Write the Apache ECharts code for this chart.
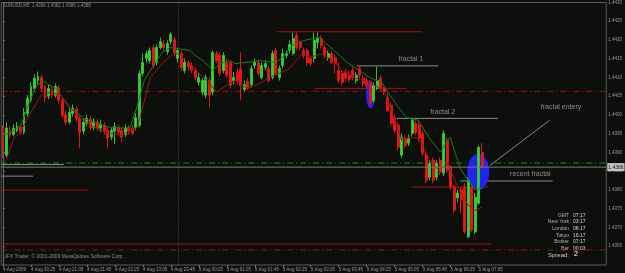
<!DOCTYPE html>
<html><head><meta charset="utf-8">
<script src="https://cdn.jsdelivr.net/npm/echarts@6/dist/echarts.min.js"></script>
<style>html,body{margin:0;padding:0;background:#0d0f0d;}#c{width:625px;height:273px;}</style>
</head><body><div id="c"></div>
<script>
// ---- data ----
const xTicks = ['4 Aug 2009','4 Aug 20:25','4 Aug 21:05','4 Aug 21:45','4 Aug 22:25','4 Aug 23:05','4 Aug 23:45','5 Aug 00:25','5 Aug 01:05','5 Aug 01:45','5 Aug 02:25','5 Aug 03:05','5 Aug 03:45','5 Aug 04:25','5 Aug 05:05','5 Aug 05:45','5 Aug 06:25','5 Aug 07:05'];
const yTicks = {min: 1.4360, max: 1.4430, step: 0.0005};
// [open, close, low, high]
const candles = [
[1.43965,1.43906,1.43885,1.43973],[1.43893,1.43965,1.43887,1.43981],[1.43959,1.43946,1.43938,1.43970],[1.43948,1.43965,1.43943,1.43975],
[1.43959,1.43970,1.43954,1.43981],[1.43967,1.43954,1.43948,1.43975],[1.43954,1.44007,1.43948,1.44018],[1.44004,1.44045,1.43996,1.44053],
[1.44039,1.44076,1.44034,1.44087],[1.44071,1.44098,1.44061,1.44108],[1.44092,1.44103,1.44081,1.44116],[1.44100,1.44071,1.44061,1.44108],
[1.44076,1.44045,1.44034,1.44081],[1.44050,1.44071,1.44042,1.44081],[1.44068,1.44053,1.44045,1.44076],[1.44053,1.44076,1.44047,1.44084],
[1.44073,1.44039,1.44031,1.44079],[1.44039,1.43999,1.43991,1.44045],[1.44001,1.43981,1.43973,1.44012],[1.43981,1.44007,1.43975,1.44018],
[1.44004,1.44018,1.43996,1.44028],[1.44015,1.43991,1.43983,1.44023],[1.43991,1.43954,1.43911,1.43999],[1.43957,1.43981,1.43948,1.43991],
[1.43978,1.43991,1.43970,1.44001],[1.43989,1.43967,1.43959,1.43996],[1.43967,1.43983,1.43959,1.43991],[1.43981,1.43965,1.43957,1.43989],
[1.43965,1.43975,1.43954,1.43986],[1.43973,1.43957,1.43948,1.43981],[1.43959,1.43938,1.43911,1.43970],[1.43941,1.43959,1.43933,1.43967],
[1.43957,1.43970,1.43922,1.43981],[1.43967,1.43954,1.43946,1.43975],[1.43959,1.43941,1.43928,1.43967],[1.43948,1.43965,1.43941,1.43975],
[1.43965,1.43957,1.43948,1.43973],[1.43965,1.43951,1.43946,1.43973],[1.43967,1.43993,1.43959,1.44004],[1.43973,1.44111,1.43967,1.44119],
[1.44111,1.44140,1.44103,1.44164],[1.44151,1.44164,1.44140,1.44172],[1.44145,1.44172,1.44137,1.44180],[1.44180,1.44132,1.44124,1.44188],
[1.44140,1.44180,1.44132,1.44188],[1.44180,1.44196,1.44175,1.44207],[1.44191,1.44180,1.44172,1.44199],[1.44169,1.44191,1.44161,1.44199],
[1.44196,1.44215,1.44188,1.44220],[1.44201,1.44164,1.44156,1.44209],[1.44151,1.44172,1.44140,1.44180],[1.44164,1.44127,1.44119,1.44172],
[1.44119,1.44140,1.44111,1.44151],[1.44140,1.44129,1.44119,1.44145],[1.44132,1.44119,1.44111,1.44140],[1.44119,1.44100,1.44092,1.44127],
[1.44087,1.44100,1.44079,1.44111],[1.44061,1.44092,1.44053,1.44098],[1.44053,1.44100,1.44045,1.44108],[1.44092,1.44053,1.44020,1.44100],
[1.44061,1.44167,1.44053,1.44172],[1.44164,1.44145,1.44137,1.44172],[1.44159,1.44111,1.44103,1.44167],[1.44119,1.44159,1.44111,1.44167],
[1.44140,1.44106,1.44098,1.44151],[1.44140,1.44079,1.44071,1.44145],[1.44092,1.44100,1.44081,1.44114],[1.44114,1.44092,1.44084,1.44124],
[1.44122,1.44079,1.44039,1.44167],[1.44068,1.44081,1.44061,1.44092],[1.44090,1.44071,1.44066,1.44098],[1.44081,1.44124,1.44073,1.44132],
[1.44132,1.44140,1.44124,1.44151],[1.44140,1.44111,1.44103,1.44148],[1.44100,1.44132,1.44095,1.44140],[1.44127,1.44137,1.44119,1.44145],
[1.44124,1.44092,1.44087,1.44132],[1.44100,1.44164,1.44095,1.44172],[1.44172,1.44111,1.44106,1.44180],[1.44100,1.44124,1.44092,1.44132],
[1.44132,1.44164,1.44124,1.44177],[1.44159,1.44164,1.44151,1.44172],[1.44172,1.44188,1.44164,1.44199],[1.44164,1.44204,1.44159,1.44220],
[1.44212,1.44180,1.44172,1.44220],[1.44193,1.44180,1.44172,1.44201],[1.44172,1.44159,1.44151,1.44180],[1.44172,1.44140,1.44132,1.44177],
[1.44151,1.44137,1.44129,1.44159],[1.44151,1.44199,1.44140,1.44220],[1.44193,1.44204,1.44177,1.44220],[1.44204,1.44185,1.44177,1.44212],
[1.44180,1.44159,1.44151,1.44188],[1.44153,1.44164,1.44145,1.44172],[1.44164,1.44140,1.44135,1.44172],[1.44153,1.44137,1.44111,1.44161],
[1.44119,1.44092,1.44084,1.44140],[1.44111,1.44087,1.44079,1.44119],[1.44114,1.44098,1.44090,1.44122],[1.44108,1.44095,1.44087,1.44119],
[1.44119,1.44100,1.44092,1.44127],[1.44092,1.44106,1.44084,1.44114],[1.44124,1.44106,1.44098,1.44132],[1.44098,1.44084,1.44076,1.44106],
[1.44092,1.44079,1.44071,1.44100],[1.44087,1.44031,1.44023,1.44092],[1.44039,1.44079,1.44034,1.44087],[1.44071,1.44092,1.44066,1.44129],
[1.44098,1.44071,1.44066,1.44106],[1.44071,1.44061,1.44053,1.44076],[1.44047,1.44012,1.44007,1.44058],[1.44026,1.43978,1.43973,1.44034],
[1.43993,1.43959,1.43951,1.44001],[1.43973,1.43914,1.43906,1.43981],[1.43893,1.43941,1.43885,1.43951],[1.43938,1.43919,1.43911,1.43946],
[1.43925,1.43938,1.43917,1.43948],[1.43951,1.43986,1.43943,1.43993],[1.43978,1.43954,1.43946,1.43986],[1.43973,1.43938,1.43930,1.43981],
[1.43951,1.43898,1.43890,1.43959],[1.43893,1.43826,1.43818,1.43906],[1.43834,1.43871,1.43826,1.43879],[1.43879,1.43826,1.43818,1.43887],
[1.43834,1.43871,1.43826,1.43879],[1.43879,1.43848,1.43840,1.43887],[1.43845,1.43951,1.43837,1.43959],[1.43933,1.43853,1.43845,1.43941],
[1.43861,1.43808,1.43800,1.43866],[1.43808,1.43746,1.43738,1.43813],[1.43779,1.43792,1.43768,1.43800],[1.43800,1.43773,1.43738,1.43808],
[1.43808,1.43688,1.43683,1.43818],[1.43675,1.43826,1.43672,1.43834],[1.43808,1.43693,1.43688,1.43818],[1.43688,1.43781,1.43683,1.43792],
[1.43765,1.43914,1.43760,1.43919],[1.43901,1.43861,1.43856,1.43925]
];
// moving averages: [bar index, price]
const maGreen = [[0,1.43946],[2.3,1.43954],[5.2,1.43973],[7.2,1.44026],[9.2,1.44071],[11.2,1.44092],[13.1,1.44081],[15.1,1.44071],[17.1,1.44045],[19.1,1.44018],[21.1,1.44007],[23.1,1.43991],[25.1,1.43983],[27.9,1.43975],[30.75,1.43967],[33.6,1.43965],[36.4,1.43967],[38.4,1.44026],[40.4,1.44092],[42.7,1.44127],[45.5,1.44167],[47.8,1.44180],[49.8,1.44177],[53.5,1.44172],[54.9,1.44159],[57.2,1.44145],[60.0,1.44119],[62.0,1.44137],[64.8,1.44145],[66.3,1.44137],[69.1,1.44140],[73.4,1.44145],[78.2,1.44140],[80.5,1.44159],[82.7,1.44185],[86.1,1.44199],[90.4,1.44207],[94.1,1.44177],[98.4,1.44140],[101.8,1.44119],[105.2,1.44098],[108.3,1.44087],[110.3,1.44058],[113.1,1.44020],[115.4,1.43993],[118.8,1.43986],[121.7,1.43941],[125.1,1.43901],[126.8,1.43927],[127.9,1.43941],[129.3,1.43898],[131.0,1.43853],[133.0,1.43826],[135.0,1.43800],[137.0,1.43805]];
const maRed = [[0.9,1.43879],[2.9,1.43933],[5.2,1.43959],[8.0,1.44007],[10.9,1.44053],[13.7,1.44061],[16.5,1.44053],[19.4,1.44018],[22.2,1.43991],[25.1,1.43973],[27.9,1.43959],[30.75,1.43951],[33.6,1.43946],[38.4,1.43967],[40.1,1.44026],[42.1,1.44100],[45.8,1.44140],[49.2,1.44167],[50.6,1.44159],[54.3,1.44127],[58.3,1.44092],[61.1,1.44061],[62.9,1.44073],[66.3,1.44092],[69.7,1.44071],[73.4,1.44084],[76.2,1.44100],[79.0,1.44111],[81.9,1.44124],[85.6,1.44164],[87.6,1.44153],[91.3,1.44164],[95.2,1.44137],[96.9,1.44119],[100.9,1.44098],[104.6,1.44087],[107.5,1.44073],[109.4,1.44053],[111.1,1.44012],[114.0,1.43933],[116.5,1.43941],[118.8,1.43938],[121.7,1.43887],[123.9,1.43858],[125.9,1.43861],[127.3,1.43871],[128.8,1.43834],[130.8,1.43792],[133.0,1.43760],[135.0,1.43746],[137.0,1.43754]];
// horizontal levels: price, from bar, to bar, kind
const levels = [
 {p:1.44063, a:-0.5, b:172.5, k:'redDash'},
 {p:1.43640, a:-0.5, b:172.5, k:'redDash'},
 {p:1.43872, a:-0.5, b:172.5, k:'greenDash'},
 {p:1.43868, a:-0.5, b:17.4, k:'gray'},
 {p:1.43837, a:-0.5, b:8.6, k:'gray'},
 {p:1.43800, a:-0.5, b:24.5, k:'red'},
 {p:1.43656, a:-0.5, b:139.6, k:'red'},
 {p:1.44222, a:78.2, b:119.7, k:'red'},
 {p:1.44071, a:89.0, b:115.4, k:'red'},
 {p:1.44131, a:101.2, b:124.5, k:'gray'},
 {p:1.43991, a:112.6, b:141.5, k:'gray'},
 {p:1.43824, a:130.75, b:157.2, k:'gray'},
 {p:1.43808, a:116.8, b:138.7, k:'red'}
];
const bidPrice = 1.43861;
const entryLine = [[139.3,1.43866],[156.3,1.43986]];
const daySep = 50.2;
const notes = [
 {t:'fractal 1', x:113.1, p:1.44148},
 {t:'fractal 2', x:122.2, p:1.44007},
 {t:'recent fractal', x:145.0, p:1.43842},
 {t:'fractal entery', x:153.8, p:1.44020}
];
const marks = [{x:105.1, p:1.44055, w:9, h:28}, {x:135.9, p:1.43848, w:22, h:36}];
const infoRows = [['GMT','07:17'],['New York','03:17'],['London','08:17'],['Tokyo','16:17'],['Broker','07:17'],['Bar','00:03']];

// ---- chart ----
const N = 173;
const cats = Array.from({length:N}, (_, i) => String(i));
const chart = echarts.init(document.getElementById('c'), null, {renderer:'canvas'});
const FONT = 'Liberation Sans';
const styles = {
  redDash: {color:'#a01212', width:1, type:[6,3,1,3]},
  greenDash: {color:'#1f8a1f', width:1, type:[6,3,1,3]},
  gray: {color:'#8a8a8a', width:1, type:'solid'},
  red: {color:'#a01414', width:1, type:'solid'}
};
const isTick = (i) => i % 8 === 0 && i / 8 < xTicks.length;
const series = [];
levels.forEach(l => series.push({type:'line', xAxisIndex:1, yAxisIndex:0, silent:true, symbol:'none', z:1,
  lineStyle:styles[l.k], data:[[l.a,l.p],[l.b,l.p]]}));
series.push({type:'line', xAxisIndex:1, silent:true, symbol:'none', z:1, lineStyle:{color:'#8a8a8a', width:1}, data:entryLine});
series.push({type:'line', xAxisIndex:1, silent:true, symbol:'none', z:1, lineStyle:{color:'#555', width:1, type:[1,2]},
  data:[[daySep, yTicks.max],[daySep, yTicks.min]]});
// bid line with price box at the right end
series.push({type:'line', xAxisIndex:1, silent:true, symbol:'none', z:6, lineStyle:{color:'#7a7a7a', width:1},
  data:[[-0.5, bidPrice],[N - 0.5, bidPrice]],
  endLabel:{show:true, distance:1, formatter:() => bidPrice.toFixed(4), backgroundColor:'#c4c4c4', color:'#111', fontSize:5, fontFamily:FONT, padding:[2,1,1,1]}});
series.push({type:'scatter', xAxisIndex:1, silent:true, z:2, symbol:'circle',
  data: marks.map(m => ({value:[m.x, m.p], symbolSize:[m.w, m.h]})),
  itemStyle:{color:'#2424f0', opacity:1}});
series.push({type:'candlestick', xAxisIndex:0, yAxisIndex:0, z:3, barWidth:2.4, silent:true,
  data:candles.map(c => [c[0], c[1], c[2], c[3]]),
  itemStyle:{color:'#36d436', color0:'#e51717', borderColor:'#30c030', borderColor0:'#e01515', borderWidth:1}
});
series.push({type:'line', xAxisIndex:1, silent:true, symbol:'none', z:4, lineStyle:{color:'#1e7a1e', width:1}, data:maGreen});
series.push({type:'line', xAxisIndex:1, silent:true, symbol:'none', z:4, lineStyle:{color:'#8e1a1a', width:1}, data:maRed});
series.push({type:'scatter', xAxisIndex:1, silent:true, z:5, symbolSize:0,
  data: notes.map(n => ({name:n.t, value:[n.x, n.p]})),
  label:{show:true, position:'right', distance:0, formatter:'{b}', color:'#a9a9a9', fontSize:7, fontFamily:FONT}});

const graphics = [
  {type:'text', left:3, top:3, style:{text:'EURUSD,M5  1.4390 1.4392 1.4386 1.4388', fill:'#8a90a4', font:'4.5px ' + FONT}},
  {type:'text', left:3, top:254, style:{text:'UFX Trader, \u00a9 2001-2009 MetaQuotes Software Corp.', fill:'#8c8c8c', font:'5px ' + FONT}}
];
infoRows.forEach((r, k) => {
  const y = 213 + k * 6.6;
  graphics.push({type:'text', x:569, y:y, style:{text:r[0], fill:'#b4b4b4', font:'5px ' + FONT, textAlign:'right'}});
  graphics.push({type:'text', x:573, y:y, style:{text:r[1], fill:'#d8d8d8', font:'5px ' + FONT, textAlign:'left'}});
});
graphics.push({type:'text', x:569, y:252, style:{text:'Spread:', fill:'#d0d0d0', font:'6px ' + FONT, textAlign:'right'}});
graphics.push({type:'text', x:574, y:251, style:{text:'2', fill:'#ffffff', font:'7px ' + FONT, textAlign:'left'}});

chart.setOption({
  backgroundColor:'#0d0f0d',
  animation:false,
  graphic:graphics,
  grid:{left:1, right:16, top:1, bottom:8, show:true, borderColor:'#5c5c5c', borderWidth:1, backgroundColor:'transparent'},
  xAxis:[
    {type:'category', data:cats, boundaryGap:true,
     axisLine:{show:false},
     axisTick:{show:true, interval:(i) => isTick(i), alignWithLabel:true, length:2, lineStyle:{color:'#777'}},
     axisLabel:{interval:(i) => isTick(i), formatter:(v, i) => xTicks[Math.round(Number(v) / 8)] || '', align:'left', margin:2, fontSize:4.5, color:'#9a9a9a', fontFamily:FONT},
     splitLine:{show:false}},
    {type:'value', min:-0.5, max:N - 0.5, show:false}
  ],
  yAxis:[{type:'value', position:'right', min:yTicks.min, max:yTicks.max, interval:yTicks.step, scale:true,
    axisLine:{show:true, lineStyle:{color:'#6a6a6a'}},
    axisTick:{show:true, length:2, lineStyle:{color:'#6a6a6a'}},
    axisLabel:{showMinLabel:false, formatter:(v) => v.toFixed(4), margin:2, fontSize:4.5, color:'#9a9aa6', fontFamily:FONT},
    splitLine:{show:false}}],
  series:series
});
</script></body></html>
